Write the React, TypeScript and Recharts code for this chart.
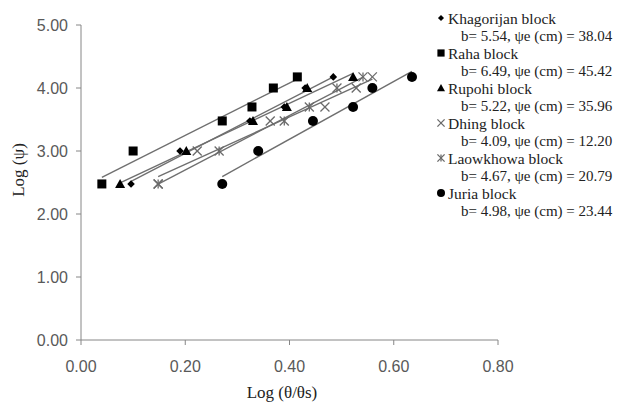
import { ComposedChart, Scatter, Line, XAxis, YAxis } from 'recharts';

// log(psi) levels shared by every block (log10 of 300, 1000, 3000, 5000, 10000, 15000)
const logPsi = [2.477, 3.0, 3.477, 3.699, 4.0, 4.176];

// log(theta/theta_s) per block, same order as logPsi
const khagorijanX = [0.096, 0.19, 0.324, 0.39, 0.43, 0.484];
const rahaX = [0.04, 0.1, 0.271, 0.328, 0.369, 0.415];
const rupohiX = [0.075, 0.202, 0.33, 0.395, 0.434, 0.522];
const dhingX = [0.148, 0.223, 0.363, 0.468, 0.528, 0.559];
const laowkhowaX = [0.148, 0.265, 0.39, 0.438, 0.491, 0.541];
const juriaX = [0.271, 0.34, 0.445, 0.522, 0.559, 0.635];

const blockNames = ['Khagorijan block', 'Raha block', 'Rupohi block', 'Dhing block', 'Laowkhowa block', 'Juria block'];
const blockStats = [
    'b= 5.54, ψe (cm) = 38.04',
    'b= 6.49, ψe (cm) = 45.42',
    'b= 5.22, ψe (cm) = 35.96',
    'b= 4.09, ψe (cm) = 12.20',
    'b= 4.67, ψe (cm) = 20.79',
    'b= 4.98, ψe (cm) = 23.44',
];

const xTicks = [0, 0.2, 0.4, 0.6, 0.8];
const yTicks = [0, 1, 2, 3, 4, 5];

const AXIS = '#868686';
const TICK_TEXT = '#595959';
const TREND = '#6f6f6f';
const MARK = '#000';
const CROSS = '#6a6a6a';

type MarkerKind = 'diamond' | 'square' | 'triangle' | 'cross' | 'star' | 'circle';

function Marker({ kind, cx, cy, s = 1 }: { kind: MarkerKind; cx: number; cy: number; s?: number }) {
    if (cx == null || cy == null) return null;
    switch (kind) {
        case 'diamond': {
            const r = 3.8 * s;
            return <polygon points={`${cx},${cy - r} ${cx + r},${cy} ${cx},${cy + r} ${cx - r},${cy}`} fill={MARK} />;
        }
        case 'square': {
            const r = 4.5 * s;
            return <rect x={cx - r} y={cy - r} width={2 * r} height={2 * r} fill={MARK} />;
        }
        case 'triangle': {
            const r = 5 * s;
            return <polygon points={`${cx},${cy - r} ${cx + r},${cy + r * 0.8} ${cx - r},${cy + r * 0.8}`} fill={MARK} />;
        }
        case 'cross': {
            const r = 4.5 * s;
            return (
                <g stroke={CROSS} strokeWidth={1.3}>
                    <line x1={cx - r} y1={cy - r} x2={cx + r} y2={cy + r} />
                    <line x1={cx - r} y1={cy + r} x2={cx + r} y2={cy - r} />
                </g>
            );
        }
        case 'star': {
            const r = 4.5 * s;
            return (
                <g stroke={CROSS} strokeWidth={1.3}>
                    <line x1={cx - r} y1={cy - r} x2={cx + r} y2={cy + r} />
                    <line x1={cx - r} y1={cy + r} x2={cx + r} y2={cy - r} />
                    <line x1={cx} y1={cy - r} x2={cx} y2={cy + r} />
                </g>
            );
        }
        default:
            return <circle cx={cx} cy={cy} r={5 * s} fill={MARK} />;
    }
}

const series: { xs: number[]; kind: MarkerKind }[] = [
    { xs: khagorijanX, kind: 'diamond' },
    { xs: rahaX, kind: 'square' },
    { xs: rupohiX, kind: 'triangle' },
    { xs: dhingX, kind: 'cross' },
    { xs: laowkhowaX, kind: 'star' },
    { xs: juriaX, kind: 'circle' },
];

const points = (xs: number[]) => xs.map((x, i) => ({ x, y: logPsi[i] }));

// least-squares trendline over the span of the block's points
function trend(xs: number[]) {
    const n = xs.length;
    const mx = xs.reduce((a, v) => a + v, 0) / n;
    const my = logPsi.reduce((a, v) => a + v, 0) / n;
    let sxy = 0;
    let sxx = 0;
    xs.forEach((x, i) => {
        sxy += (x - mx) * (logPsi[i] - my);
        sxx += (x - mx) * (x - mx);
    });
    const k = sxy / sxx;
    const lo = Math.min(...xs);
    const hi = Math.max(...xs);
    return [
        { x: lo, y: my + k * (lo - mx) },
        { x: hi, y: my + k * (hi - mx) },
    ];
}

const XTick = ({ x, y, payload }: any) => (
    <text x={x} y={y + 25} textAnchor="middle" fontFamily="Liberation Sans" fontSize={16} fill={TICK_TEXT}>
        {Number(payload.value).toFixed(2)}
    </text>
);

const YTick = ({ x, y, payload }: any) => (
    <text x={x - 6} y={y + 6} textAnchor="end" fontFamily="Liberation Sans" fontSize={16} fill={TICK_TEXT}>
        {Number(payload.value).toFixed(2)}
    </text>
);

export default function App() {
    return (
        <div style={{ position: 'absolute', left: 0, top: 0, width: 626, height: 402, background: '#fff' }}>
            <ComposedChart width={626} height={402} margin={{ top: 25, right: 128, bottom: 0, left: 0 }}>
                <XAxis
                    type="number"
                    dataKey="x"
                    domain={[0, 0.8]}
                    ticks={xTicks}
                    height={62}
                    stroke={AXIS}
                    tickSize={5}
                    tick={<XTick />}
                    allowDataOverflow
                />
                <YAxis
                    type="number"
                    dataKey="y"
                    domain={[0, 5]}
                    ticks={yTicks}
                    width={81}
                    stroke={AXIS}
                    tickSize={5}
                    tick={<YTick />}
                />
                {series.map((s, i) => (
                    <Line
                        key={`t${i}`}
                        data={trend(s.xs)}
                        dataKey="y"
                        stroke={TREND}
                        strokeWidth={1.4}
                        dot={false}
                        activeDot={false}
                        isAnimationActive={false}
                    />
                ))}
                {series.map((s, i) => (
                    <Scatter
                        key={`s${i}`}
                        data={points(s.xs)}
                        dataKey="y"
                        isAnimationActive={false}
                        shape={(p: any) => <Marker kind={s.kind} cx={p.cx} cy={p.cy} />}
                    />
                ))}
            </ComposedChart>

            {/* titles and legend */}
            <svg width={626} height={402} style={{ position: 'absolute', left: 0, top: 0, pointerEvents: 'none' }}>
                <text x={282} y={398} textAnchor="middle" fontFamily="Liberation Serif" fontSize={17} fill="#222">
                    Log (θ/θs)
                </text>
                <text
                    transform="translate(24,170) rotate(-90)"
                    textAnchor="middle"
                    fontFamily="Liberation Serif"
                    fontSize={17}
                    fill="#222"
                >
                    Log (ψ)
                </text>
                {series.map((s, i) => {
                    const yc = 18 + i * 35;
                    return (
                        <g key={`l${i}`}>
                            <Marker kind={s.kind} cx={441} cy={yc} s={0.8} />
                            <text x={448} y={yc + 5.5} fontFamily="Liberation Serif" fontSize={15.5} fill="#222">
                                {blockNames[i]}
                            </text>
                            <text x={461} y={yc + 23} fontFamily="Liberation Serif" fontSize={15} fill="#222">
                                {blockStats[i]}
                            </text>
                        </g>
                    );
                })}
            </svg>
        </div>
    );
}
